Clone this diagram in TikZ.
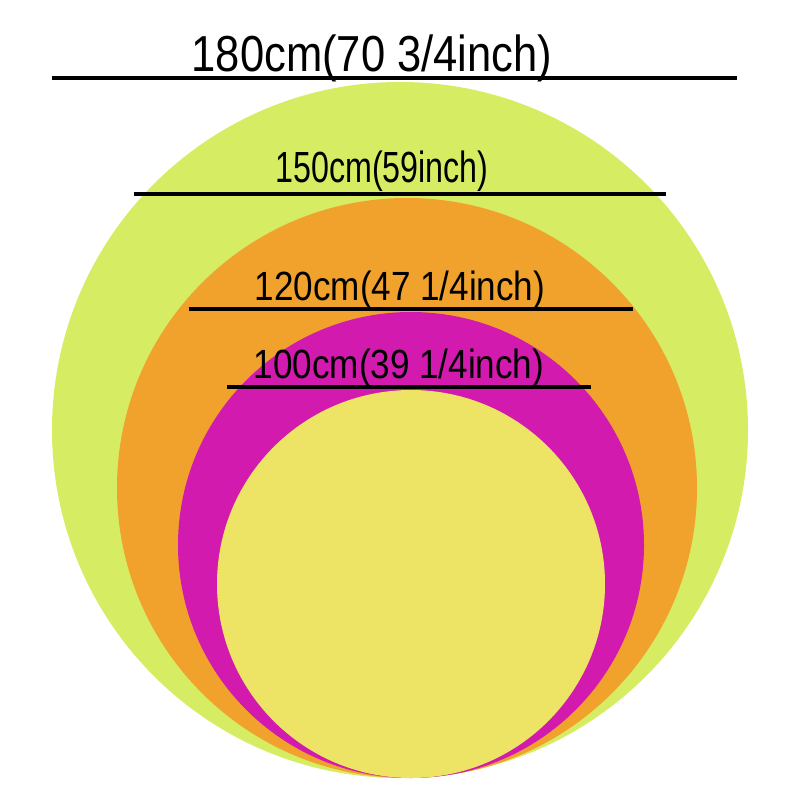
\documentclass[tikz,border=0pt]{standalone}
\usepackage{fontspec}
\setmainfont[FakeStretch=0.86]{Liberation Sans}
\definecolor{lime}{HTML}{D6EC62}
\definecolor{amber}{HTML}{F0A22C}
\definecolor{berry}{HTML}{D21AAE}
\definecolor{sand}{HTML}{EDE364}

\begin{document}
\begin{tikzpicture}[x=0.025cm,y=-0.025cm,size/.style={anchor=base,font=\fontsize{#1}{#1}\selectfont,inner sep=0pt},rule/.style={line width=2.8pt}]
\useasboundingbox (0,0) rectangle (800,800);
\fill[lime] (400,430) circle (348);
\fill[amber] (407,488) circle (290);
\fill[berry] (411,545) circle (233);
\fill[sand] (411,584) circle (194);
\coordinate (a-left) at (52,78);
\coordinate (a-right) at (737,78);
\coordinate (b-left) at (134,194);
\coordinate (b-right) at (666,194);
\coordinate (c-left) at (189,309);
\coordinate (c-right) at (633,309);
\coordinate (d-left) at (227,387);
\coordinate (d-right) at (591,387);
\draw[rule] (a-left) -- (a-right);
\draw[rule] (b-left) -- (b-right);
\draw[rule] (c-left) -- (c-right);
\draw[rule] (d-left) -- (d-right);
\node (a-label) at (372,72) [size=36] {180cm(70 3/4inch)};
\node (b-label) at (382,183) [size=31] {\scalebox{0.86}[1]{150cm(59inch)}};
\node (c-label) at (400,300) [size=29] {120cm(47 1/4inch)};
\node (d-label) at (399,378) [size=29] {100cm(39 1/4inch)};
\end{tikzpicture}
\end{document}
